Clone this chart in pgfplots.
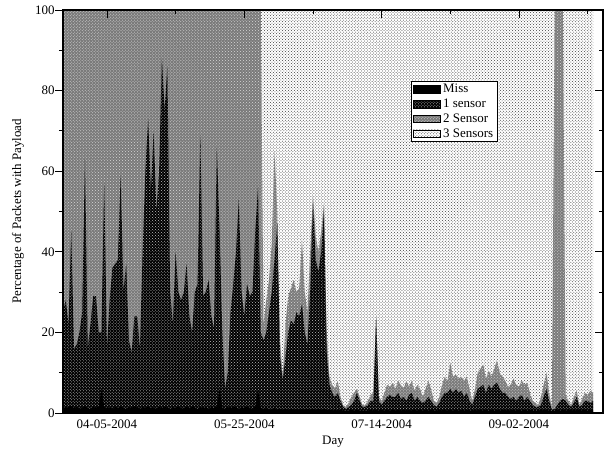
\documentclass[border=0pt]{standalone}
\usepackage{fontspec}
\setmainfont{Liberation Serif}
\usepackage{pgfplots}
\pgfplotsset{compat=1.18}
\usepackage{pgfplotstable}
\usetikzlibrary{patterns}

\pgfplotstableread{
d m c1 c2
-16 1.5 25 100
-15 1.2 28 100
-14 1.5 22 100
-13 1.8 45 100
-12 1.2 16 100
-11 1.5 17 100
-10 1.0 20 100
-9 1.4 25 100
-8 1.6 63 100
-7 1.2 16 100
-6 1.0 22 100
-5 1.5 29 100
-4 1.3 29 100
-3 1.6 20 100
-2 6.0 20 100
-1 1.5 57 100
0 1.2 16 100
1 1.4 28 100
2 1.0 36 100
3 1.5 37 100
4 1.2 38 100
5 1.6 59 100
6 1.3 30 100
7 1.0 37 100
8 1.5 18 100
9 1.2 15 100
10 1.8 24 100
11 1.3 24 100
12 1.0 16 100
13 1.5 40 100
14 1.3 60 100
15 1.6 73 100
16 1.2 55 100
17 1.4 70 100
18 1.0 50 100
19 1.5 60 100
20 1.2 88 100
21 1.6 75 100
22 1.3 86 100
23 1.0 30 100
24 1.5 22 100
25 1.2 40 100
26 1.6 30 100
27 1.3 28 100
28 1.0 30 100
29 1.5 37 100
30 1.2 24 100
31 1.6 20 100
32 1.3 30 100
33 1.0 32 100
34 1.5 69 100
35 1.2 29 100
36 1.4 30 100
37 1.0 33 100
38 1.5 24 100
39 1.2 21 100
40 1.6 66 100
41 6.0 45 100
42 1.3 20 100
43 1.0 6 100
44 1.5 10 100
45 1.2 25 100
46 1.6 32 100
47 1.3 40 100
48 1.0 53 100
49 1.5 30 100
50 1.2 24 100
51 1.6 32 100
52 1.3 29 100
53 1.0 30 100
54 1.5 45 100
55 6.0 56 100
56 1.3 20 100
57 1.0 18 22
58 1.2 20 28
59 0.8 25 33
60 1.0 30 42
61 1.2 38 65
62 0.8 47 50
63 1.0 14 18
64 0.8 8 9
65 1.0 14 22
66 0.8 20 29
67 1.0 23 31
68 0.8 22 33
69 1.0 25 30
70 0.8 24 31
71 1.0 27 43
72 0.8 20 30
73 1.0 17 25
74 0.8 30 40
75 1.0 52 54
76 0.8 38 44
77 1.0 35 40
78 0.8 40 45
79 1.0 50 52
80 0.8 15 20
81 0.8 7 9
82 0.6 5 7
83 0.8 4 6
84 0.6 5 8
85 0.8 3 4
86 0.6 1.5 2
87 0.5 1 1.5
88 0.6 1.5 2.5
89 0.8 2 4
90 0.6 3 5
91 0.8 5 6
92 0.6 3 4
93 0.6 1.5 2
94 0.5 1.5 2
95 0.6 2 3
96 0.8 3 4.5
97 0.6 3 5
98 0.8 24 24
99 0.6 3 4
100 0.8 2 3
101 0.6 3 5
102 0.8 4 7
103 0.6 4.5 6.5
104 0.8 4 7.5
105 0.6 4 6
106 0.8 5 8
107 0.6 3.5 7
108 0.8 4 6
109 0.6 3 8
110 0.8 4.5 6.5
111 0.6 5 8
112 0.8 3 5.5
113 0.6 4 7
114 0.8 3 6
115 0.6 2.5 4
116 0.8 3 6
117 0.6 4 8
118 0.8 3 6
119 0.6 2 3
120 0.6 1.5 2.5
121 0.8 2.5 4
122 0.6 4 7
123 0.8 5 9
124 0.6 5 8
125 0.8 6 12.5
126 0.6 5 9
127 0.8 6 9.5
128 0.6 5 8.5
129 0.8 5.5 9
130 0.6 4 8
131 0.8 5 9
132 0.6 3 6
133 0.6 2 3
134 0.8 4 6
135 0.6 6 10
136 0.8 6.5 11
137 0.6 7 12
138 0.8 5 8.5
139 0.6 7 10.5
140 0.8 6 9
141 0.6 7 11
142 0.8 7.5 13
143 0.6 6 10
144 0.8 5 9
145 0.6 5 8
146 0.8 4 6.5
147 0.6 3.5 7
148 0.8 4 8.5
149 0.6 3 7
150 0.8 4 6.5
151 0.6 4.5 8
152 0.8 3 7
153 0.6 4 7.5
154 0.8 3 5
155 0.6 2 3
156 0.6 1.5 2.5
157 0.6 1.5 2
158 0.8 2 4
159 0.6 4 7
160 0.8 6 10
161 0.6 3 5
162 0.5 0.8 1
163 0.6 1 100
164 0.8 2 100
165 0.6 3 100
166 0.8 3.5 100
167 0.6 3 4.5
168 0.8 2 3
169 0.6 1.5 2
170 0.8 2.5 4
171 0.6 4 5.5
172 0.8 1.5 2
173 0.6 2 3.5
174 0.8 3 5
175 0.6 3 4.5
176 0.8 2.5 5.5
177 0.6 3 5
}\data

\tikzset{
  missst/.style={fill=black},
  sone/.style={fill=black, postaction={pattern=crosshatch dots, pattern color=white!75!black}},
  stwo/.style={fill=black!52, postaction={pattern=crosshatch dots, pattern color=white!85!black}},
  sthree/.style={fill=white, postaction={pattern=crosshatch dots, pattern color=black!75}},
}

\begin{document}
\begin{tikzpicture}[font=\fontsize{13}{15}\selectfont]
\begin{axis}[
  scale only axis, width=540bp, height=403bp,
  xmin=-16, xmax=180.6, ymin=0, ymax=100,
  xtick={0,50,100,150},
  xticklabels={04-05-2004,05-25-2004,07-14-2004,09-02-2004},
  minor xtick={25,75,125,175},
  ytick={0,20,...,100}, minor ytick={10,30,50,70,90},
  xtick pos=upper, xticklabel pos=lower,
  ytick pos=left,
  xtick align=inside, ytick align=outside,
  major tick length=8bp, minor tick length=4bp,
  axis on top,
  axis line style={line width=1.2bp},
  every tick/.style={black, line width=0.8bp},
  xlabel={Day}, ylabel={Percentage of Packets with Payload},
  xlabel style={at={(axis description cs:0.5,-0.071)}, anchor=center},
  ylabel style={at={(axis description cs:-0.0833,0.5)}, anchor=center},
  xticklabel style={yshift=-3bp},
  yticklabel style={xshift=3bp},
  /pgf/number format/assume math mode=true,
  legend cell align=left,
  legend style={at={(rel axis cs:0.644,0.823)}, anchor=north west,
    draw=black, line width=0.8bp, inner sep=2bp, row sep=3.5bp,
    nodes={inner xsep=2.5bp, inner ysep=0.6bp},
    font=\fontsize{13}{14}\selectfont},
  legend image code/.code={\draw[#1, draw=black, line width=0.5bp] (0bp,-3.8bp) rectangle (27bp,3.8bp);},
]
\addlegendimage{missst}
\addlegendentry{Miss}
\addlegendimage{sone}
\addlegendentry{1 sensor}
\addlegendimage{stwo}
\addlegendentry{2 Sensor}
\addlegendimage{sthree}
\addlegendentry{3 Sensors}

\addplot[sthree, draw=none, forget plot] coordinates {(-16,100) (177,100)} \closedcycle;
\addplot[stwo, draw=none, forget plot] table[x=d, y=c2] {\data} \closedcycle;
\addplot[sone, draw=none, forget plot] table[x=d, y=c1] {\data} \closedcycle;
\addplot[missst, draw=none, forget plot] table[x=d, y=m] {\data} \closedcycle;
\end{axis}
\begin{axis}[
  scale only axis, width=540bp, height=403bp,
  xmin=-16, xmax=180.6, ymin=0, ymax=100,
  xtick=\empty,
  ytick={0,20,...,100}, minor ytick={10,30,50,70,90},
  ytick pos=right, yticklabel pos=left, yticklabels={},
  tick align=inside,
  major tick length=8bp, minor tick length=4bp,
  axis line style={line width=1.2bp},
  every tick/.style={black, line width=0.8bp},
]
\end{axis}
\path (-63bp,-36bp) rectangle (542bp,413bp);
\end{tikzpicture}
\end{document}
